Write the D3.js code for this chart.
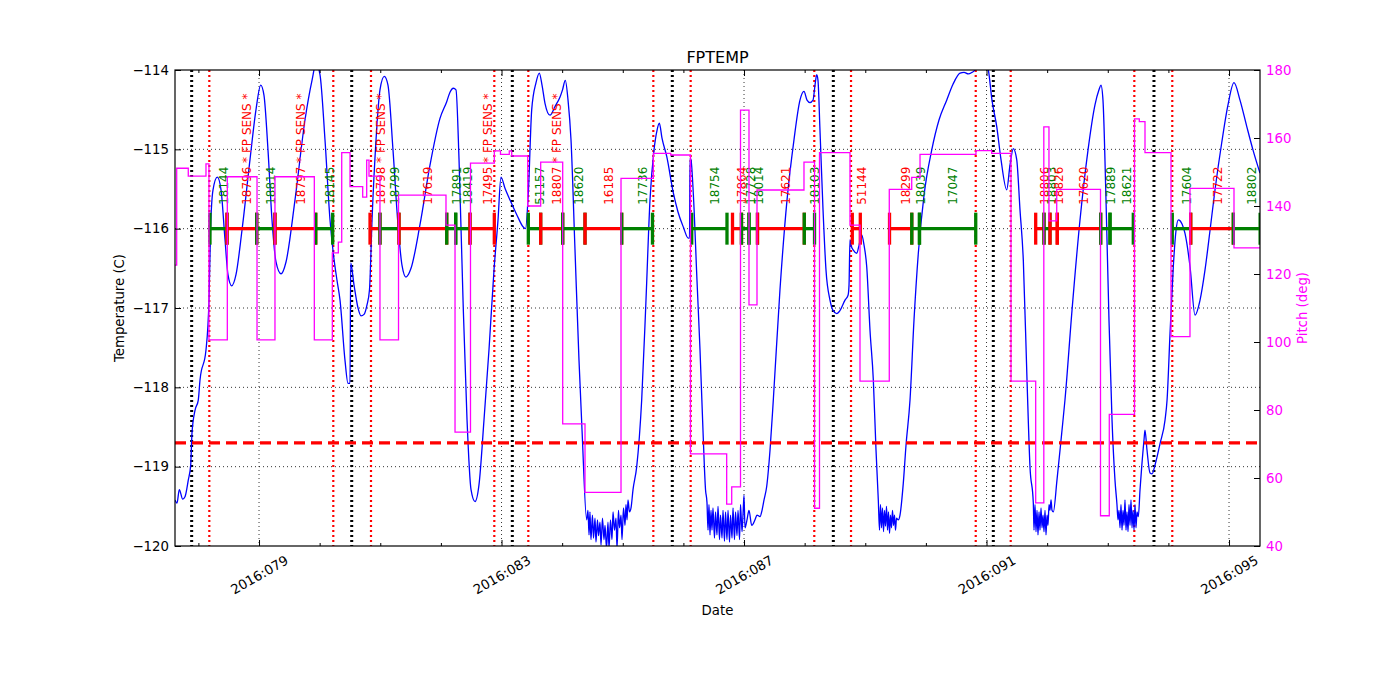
<!DOCTYPE html>
<html><head><meta charset="utf-8">
<script src="https://cdnjs.cloudflare.com/ajax/libs/d3/7.8.5/d3.min.js"></script>
<style>body{margin:0;background:#fff;} text{font-family:"DejaVu Sans",sans-serif;}</style>
</head><body><svg id="c" width="1400" height="700"></svg>
<script>
// ---------------- DATA ----------------
const chartTitle = "FPTEMP";
const xDomain = [77.614, 95.511];           // day of year 2016
const tempDomain = [-120, -114];
const pitchDomain = [40, 180];
const tempTicks = [-120, -119, -118, -117, -116, -115, -114];
const pitchTicks = [40, 60, 80, 100, 120, 140, 160, 180];
const dateMajorTicks = [79, 83, 87, 91, 95];
const dateTickLabels = ["2016:079", "2016:083", "2016:087", "2016:091", "2016:095"];
const dateMinorTicks = [78, 80, 81, 82, 84, 85, 86, 88, 89, 90, 92, 93, 94];
const tempLimit = -118.7;
const obsBarLevel = -116;
const obsLabelBase = -115.70;

// FPTEMP [day, degC]
const fptemp = [
[77.614,-119.42],[77.647,-119.46],[77.685,-119.29],[77.741,-119.41],[77.779,-119.38],[77.833,-119.17],[77.873,-118.98],[77.894,-118.58],[77.944,-118.29],[77.998,-118.16],[78.026,-117.91],[78.125,-117.53],[78.175,-116.90],[78.200,-116.02],[78.241,-115.51],[78.312,-115.35],[78.373,-115.51],[78.439,-116.14],[78.488,-116.58],[78.549,-116.72],[78.620,-116.58],[78.719,-116.02],[78.851,-115.13],[78.950,-114.50],[79.028,-114.19],[79.082,-114.32],[79.148,-115.01],[79.214,-115.89],[79.280,-116.42],[79.363,-116.57],[79.445,-116.42],[79.593,-115.64],[79.758,-114.63],[79.874,-114.13],[79.940,-113.92],[80.006,-114.06],[80.088,-114.88],[80.171,-115.89],[80.225,-116.31],[80.286,-116.65],[80.336,-116.90],[80.418,-117.66],[80.468,-117.95],[80.501,-117.95],[80.512,-116.43],[80.567,-116.71],[80.633,-117.00],[80.682,-117.10],[80.732,-117.08],[80.781,-116.96],[80.822,-116.77],[80.864,-115.89],[80.930,-114.88],[80.995,-114.25],[81.066,-114.08],[81.127,-114.19],[81.210,-115.01],[81.292,-115.95],[81.358,-116.46],[81.424,-116.61],[81.507,-116.50],[81.655,-115.95],[81.820,-115.20],[81.985,-114.61],[82.096,-114.40],[82.150,-114.28],[82.205,-114.23],[82.249,-114.25],[82.299,-115.13],[82.365,-116.90],[82.431,-118.41],[82.497,-119.29],[82.563,-119.44],[82.628,-119.23],[82.711,-118.41],[82.793,-117.53],[82.876,-116.52],[82.942,-115.89],[82.991,-115.35],[83.057,-115.49],[83.140,-115.64],[83.255,-115.83],[83.359,-115.98],[83.396,-116.00],[83.442,-115.55],[83.498,-114.50],[83.569,-114.16],[83.623,-114.04],[83.668,-114.19],[83.717,-114.42],[83.800,-114.57],[83.882,-114.46],[83.965,-114.34],[84.006,-114.25],[84.052,-114.13],[84.097,-114.38],[84.146,-114.88],[84.212,-116.27],[84.278,-117.66],[84.328,-118.54],[84.405,-119.67],
[84.426,-119.55],[84.443,-119.86],[84.459,-119.57],[84.475,-119.92],[84.500,-119.61],[84.517,-119.90],[84.542,-119.65],[84.558,-119.95],[84.583,-119.67],[84.600,-119.87],[84.624,-119.70],[84.641,-119.99],[84.665,-119.65],[84.690,-119.92],[84.707,-119.74],[84.732,-120.03],[84.756,-119.70],[84.773,-120.03],[84.797,-119.67],[84.822,-119.92],[84.839,-119.57],[84.863,-119.80],[84.888,-119.65],[84.905,-120.03],[84.929,-119.55],[84.946,-119.77],[84.971,-119.61],[84.987,-119.92],[85.012,-119.52],[85.037,-119.74],[85.053,-119.48],[85.070,-119.67],[85.086,-119.42],[85.111,-119.57],[85.136,-119.52],
[85.169,-119.29],[85.230,-119.00],[85.312,-118.16],[85.383,-116.90],[85.449,-115.64],[85.515,-115.01],[85.565,-114.76],[85.603,-114.67],[85.647,-114.86],[85.725,-115.09],[85.834,-115.55],[85.911,-115.79],[85.999,-115.98],[86.081,-116.12],[86.101,-116.12],[86.109,-115.11],[86.125,-115.13],[86.163,-115.55],[86.224,-116.65],[86.274,-117.53],[86.323,-118.54],[86.365,-119.29],
[86.389,-119.45],[86.406,-119.80],[86.422,-119.48],[86.439,-119.86],[86.455,-119.55],[86.472,-119.80],[86.488,-119.52],[86.513,-119.90],[86.530,-119.57],[86.554,-119.86],[86.571,-119.50],[86.596,-119.92],[86.612,-119.61],[86.637,-119.90],[86.653,-119.55],[86.678,-119.94],[86.695,-119.57],[86.719,-119.92],[86.736,-119.55],[86.761,-119.95],[86.777,-119.61],[86.802,-119.90],[86.818,-119.52],[86.843,-119.92],[86.860,-119.57],[86.884,-119.87],[86.901,-119.55],[86.926,-119.92],[86.942,-119.48],[86.967,-119.82],[86.983,-119.61],[87.000,-119.36],[87.016,-119.77],
[87.049,-119.67],[87.082,-119.55],[87.127,-119.74],[87.181,-119.67],[87.214,-119.61],[87.264,-119.63],[87.297,-119.55],[87.330,-119.42],[87.374,-119.25],[87.429,-118.79],[87.483,-118.16],[87.593,-116.77],[87.709,-115.64],[87.824,-114.88],[87.923,-114.38],[87.989,-114.27],[88.039,-114.38],[88.088,-114.41],[88.138,-114.38],[88.171,-114.19],[88.199,-114.06],[88.220,-114.13],[88.253,-114.76],[88.303,-115.76],[88.352,-116.52],[88.418,-116.90],[88.468,-117.03],[88.529,-117.07],[88.584,-117.03],[88.666,-116.90],[88.716,-116.84],[88.732,-116.71],[88.748,-116.14],[88.765,-116.21],[88.803,-116.27],[88.859,-116.31],[88.897,-116.21],[88.941,-116.08],[88.980,-116.21],[89.024,-116.48],[89.078,-117.28],[89.133,-117.91],[89.177,-118.79],[89.215,-119.42],
[89.235,-119.80],[89.251,-119.48],[89.268,-119.77],[89.284,-119.52],[89.301,-119.82],[89.317,-119.55],[89.334,-119.75],[89.350,-119.50],[89.367,-119.80],[89.383,-119.57],[89.400,-119.84],[89.416,-119.61],[89.433,-119.77],[89.449,-119.55],[89.466,-119.74],[89.482,-119.61],[89.499,-119.80],[89.515,-119.65],[89.545,-119.67],
[89.573,-119.61],[89.627,-119.21],[89.672,-118.73],[89.738,-118.16],[89.804,-117.15],[89.875,-116.31],[89.969,-115.58],[90.096,-115.01],[90.216,-114.63],[90.343,-114.38],[90.447,-114.18],[90.563,-114.04],[90.629,-114.03],[90.699,-114.05],[90.760,-114.03],[90.810,-114.00],[90.860,-113.90],[90.926,-113.82],[90.976,-113.90],[91.030,-114.00],[91.090,-114.38],[91.168,-114.71],[91.239,-115.13],[91.333,-115.51],[91.387,-115.20],[91.442,-114.99],[91.498,-115.13],[91.552,-115.76],[91.607,-116.40],[91.668,-117.91],[91.717,-119.00],[91.772,-119.46],
[91.783,-119.80],[91.800,-119.48],[91.816,-119.82],[91.833,-119.55],[91.849,-119.86],[91.866,-119.57],[91.882,-119.80],[91.899,-119.52],[91.915,-119.77],[91.932,-119.61],[91.948,-119.82],[91.965,-119.55],[91.981,-119.86],[91.998,-119.61],[92.014,-119.74],[92.031,-119.48],[92.047,-119.55],[92.064,-119.42],[92.080,-119.55],[92.102,-119.57],
[92.162,-119.17],[92.240,-118.58],[92.294,-118.16],[92.410,-117.03],[92.542,-115.89],[92.674,-115.01],[92.789,-114.44],[92.855,-114.25],[92.888,-114.19],[92.921,-114.38],[92.971,-115.64],[93.020,-117.15],[93.070,-118.41],[93.119,-119.17],[93.152,-119.48],
[93.169,-119.67],[93.185,-119.55],[93.202,-119.77],[93.218,-119.48],[93.235,-119.80],[93.251,-119.55],[93.268,-119.74],[93.284,-119.42],[93.301,-119.80],[93.317,-119.57],[93.334,-119.82],[93.350,-119.48],[93.367,-119.74],[93.383,-119.42],[93.400,-119.77],[93.416,-119.55],[93.433,-119.80],[93.449,-119.48],[93.466,-119.77],[93.482,-119.57],[93.504,-119.63],
[93.532,-119.29],[93.560,-119.00],[93.598,-118.66],[93.614,-118.54],[93.647,-118.79],[93.697,-119.08],[93.730,-119.09],[93.779,-118.98],[93.862,-118.71],[93.945,-118.41],[93.978,-118.16],[94.027,-117.32],[94.081,-116.48],[94.126,-116.02],[94.164,-115.89],[94.225,-115.94],[94.274,-116.06],[94.357,-116.48],[94.439,-117.09],[94.522,-116.90],[94.604,-116.52],[94.687,-116.02],[94.769,-115.51],[94.879,-114.92],[94.983,-114.44],[95.082,-114.16],[95.181,-114.38],[95.292,-114.71],[95.396,-115.01],[95.511,-115.30]
];

// Pitch step function [day, deg] (value holds until next day)
const pitchSteps = [
[77.614,122.6],[77.642,151.1],[77.833,148.8],[78.125,152.4],[78.174,100.6],[78.477,148.6],[78.967,100.6],[79.263,148.6],[79.912,100.6],[80.209,126.2],[80.308,129.4],[80.364,155.7],[80.501,145.7],[80.710,142.6],[80.776,153.5],[80.814,148.8],[80.995,100.6],[81.301,143.2],[82.084,134.4],[82.233,73.5],[82.488,152.6],[82.881,156.2],[82.983,155.2],[83.128,156.2],[83.168,154.7],[83.432,140.0],[83.646,152.9],[84.009,75.9],[84.377,55.8],[84.971,148.1],[85.504,155.5],[85.791,155.0],[86.117,67.1],[86.714,52.3],[86.797,57.4],[86.942,168.2],[87.082,110.9],[87.214,144.7],[87.989,152.9],[88.163,51.1],[88.245,155.7],[88.748,134.4],[88.913,88.5],[89.396,144.9],[89.766,148.4],[89.903,155.2],[90.826,156.3],[91.085,155.5],[91.404,88.5],[91.811,52.7],[91.945,163.3],[92.030,135.6],[92.158,144.9],[92.880,48.9],[93.025,78.7],[93.441,165.6],[93.520,164.8],[93.614,155.7],[94.043,101.6],[94.356,145.2],[95.082,127.7],[95.511,127.7]
];

// Observations
const obsIds    = ["18144","18796","18814","18797","18145","18798","18799","17619","17891","18419","17495","51157","18807","18620","16185","17736","18754","17864","17728","18014","17621","18103","51144","18299","18039","17047","18806","18803","18826","17620","17889","18621","17604","17722","18802"];
const obsStart  = [78.191,78.472,78.962,79.263,79.935,80.831,80.995,81.309,82.096,82.244,82.480,83.442,83.646,84.009,84.377,84.982,86.137,86.810,86.958,87.082,87.222,87.994,88.786,89.400,89.767,89.894,91.811,91.948,92.047,92.167,92.883,93.037,94.064,94.368,95.071];
const obsStop   = [78.472,78.962,79.263,79.935,80.215,80.995,81.309,82.096,82.244,82.480,82.881,83.646,84.009,84.377,84.982,85.490,86.719,86.958,87.082,87.222,87.994,88.163,88.918,89.767,89.894,90.822,91.948,92.047,92.167,92.883,93.037,93.421,94.368,95.071,95.513];
const obsColor  = ["green","red","green","red","green","red","green","red","green","green","red","green","red","green","red","green","green","red","green","green","red","green","red","red","green","green","red","green","red","red","green","green","green","red","green"];
const fpSensIds = ["18796","18797","18798","17495","18807"];

// Radiation zone markers
const radZoneMid   = [77.889, 80.529, 83.178, 85.817, 88.473, 91.112, 93.762];
const radZoneEdges = [78.180, 80.225, 80.847, 82.881, 83.442, 85.504, 86.120, 88.159, 88.765, 90.822, 91.399, 93.438, 94.064];

// ---------------- DRAW ----------------
const L = 175, R = 1260, T = 70, B = 546;
const svg = d3.select("#c");
const x = d3.scaleLinear().domain(xDomain).range([L, R]);
const yT = d3.scaleLinear().domain(tempDomain).range([B, T]);
const yP = d3.scaleLinear().domain(pitchDomain).range([B, T]);

svg.append("defs").append("clipPath").attr("id","clip")
  .append("rect").attr("x",L).attr("y",T).attr("width",R-L).attr("height",B-T);

const plot = svg.append("g").attr("clip-path","url(#clip)");

// grid
plot.selectAll(".hg").data(tempTicks.slice(1,-1)).enter().append("line")
  .attr("x1",L).attr("x2",R).attr("y1",d=>yT(d)).attr("y2",d=>yT(d))
  .attr("stroke","#000").attr("stroke-width",0.8).attr("stroke-dasharray","1,3");
plot.selectAll(".vg").data(dateMajorTicks).enter().append("line")
  .attr("x1",d=>x(d)).attr("x2",d=>x(d)).attr("y1",T).attr("y2",B)
  .attr("stroke","#000").attr("stroke-width",0.8).attr("stroke-dasharray","1,3");

// radiation zone lines
plot.selectAll(".rz").data(radZoneMid).enter().append("line")
  .attr("x1",d=>x(d)).attr("x2",d=>x(d)).attr("y1",T).attr("y2",B)
  .attr("stroke","#000").attr("stroke-width",3).attr("stroke-dasharray","2,3");
plot.selectAll(".re").data(radZoneEdges).enter().append("line")
  .attr("x1",d=>x(d)).attr("x2",d=>x(d)).attr("y1",T).attr("y2",B)
  .attr("stroke","#ff0000").attr("stroke-width",2.2).attr("stroke-dasharray","2,3");

// temperature
plot.append("path").datum(fptemp)
  .attr("d", d3.line().curve(d3.curveMonotoneX).x(d=>x(d[0])).y(d=>yT(d[1])))
  .attr("fill","none").attr("stroke","#0000ff").attr("stroke-width",1.3);

// limit line
plot.append("line").attr("x1",L).attr("x2",R).attr("y1",yT(tempLimit)).attr("y2",yT(tempLimit))
  .attr("stroke","#ff0000").attr("stroke-width",3.3).attr("stroke-dasharray","11,6");

// observations
const obs = obsIds.map((id,i)=>({id, s:obsStart[i], e:obsStop[i], c:obsColor[i]}));
const og = plot.append("g");
obs.forEach(o=>{
  const yb = yT(obsBarLevel);
  og.append("line").attr("x1",x(o.s)).attr("x2",x(o.e)).attr("y1",yb).attr("y2",yb)
    .attr("stroke",o.c).attr("stroke-width",3.3);
  [o.s,o.e].forEach(v=>{
    og.append("line").attr("x1",x(v)).attr("x2",x(v)).attr("y1",yb-16).attr("y2",yb+16)
      .attr("stroke",o.c).attr("stroke-width",3.3);
  });
});
obs.forEach(o=>{
  const xm = x((o.s+o.e)/2);
  const label = fpSensIds.includes(o.id) ? o.id + " * FP SENS *" : o.id;
  og.append("text").attr("transform",`translate(${xm+9.5},${yT(obsLabelBase)}) rotate(-90)`)
    .attr("fill",o.c).attr("font-size","12px").text(label);
});

// pitch
plot.append("path").datum(pitchSteps)
  .attr("d", d3.line().curve(d3.curveStepAfter).x(d=>x(d[0])).y(d=>yP(d[1])))
  .attr("fill","none").attr("stroke","#ff00ff").attr("stroke-width",1.3);

// axes
const fmtT = d => d3.format("d")(d).replace("-","\u2212");
const axL = svg.append("g").attr("transform",`translate(${L},0)`)
  .call(d3.axisLeft(yT).tickValues(tempTicks).tickFormat(fmtT).tickSizeInner(-6).tickSizeOuter(0).tickPadding(6));
const axR = svg.append("g").attr("transform",`translate(${R},0)`)
  .call(d3.axisRight(yP).tickValues(pitchTicks).tickSizeInner(-6).tickSizeOuter(0).tickPadding(6));
axR.selectAll("text").attr("fill","#ff00ff");
const axB = svg.append("g").attr("transform",`translate(0,${B})`)
  .call(d3.axisBottom(x).tickValues(dateMajorTicks).tickFormat((d,i)=>dateTickLabels[i]).tickSizeInner(-6).tickSizeOuter(0));
axB.selectAll("text").attr("y",null).attr("dy",null).attr("text-anchor","middle")
  .attr("dominant-baseline","central").attr("transform","translate(0,29) rotate(-30)");
svg.append("g").attr("transform",`translate(0,${B})`)
  .call(d3.axisBottom(x).tickValues(dateMinorTicks).tickFormat("").tickSizeInner(-3).tickSizeOuter(0));
svg.append("g").attr("transform",`translate(0,${T})`)
  .call(d3.axisTop(x).tickValues(dateMajorTicks).tickFormat("").tickSizeInner(-6).tickSizeOuter(0));
svg.append("g").attr("transform",`translate(0,${T})`)
  .call(d3.axisTop(x).tickValues(dateMinorTicks).tickFormat("").tickSizeInner(-3).tickSizeOuter(0));
svg.selectAll(".domain").remove();
svg.selectAll(".tick text").attr("font-size","13.3px").attr("font-family","DejaVu Sans");
svg.selectAll(".tick line").attr("stroke","#000");

svg.append("rect").attr("x",L).attr("y",T).attr("width",R-L).attr("height",B-T)
  .attr("fill","none").attr("stroke","#000").attr("stroke-width",1.2);

// labels
svg.append("text").attr("x",(L+R)/2).attr("y",63).attr("text-anchor","middle")
  .attr("font-size","16px").text(chartTitle);
svg.append("text").attr("x",(L+R)/2).attr("y",615).attr("text-anchor","middle")
  .attr("font-size","13.3px").text("Date");
svg.append("text").attr("transform",`translate(124,${(T+B)/2}) rotate(-90)`).attr("text-anchor","middle")
  .attr("font-size","13.3px").text("Temperature (C)");
svg.append("text").attr("transform",`translate(1307,${(T+B)/2}) rotate(-90)`).attr("text-anchor","middle")
  .attr("font-size","13.3px").attr("fill","#ff00ff").text("Pitch (deg)");
</script></body></html>
